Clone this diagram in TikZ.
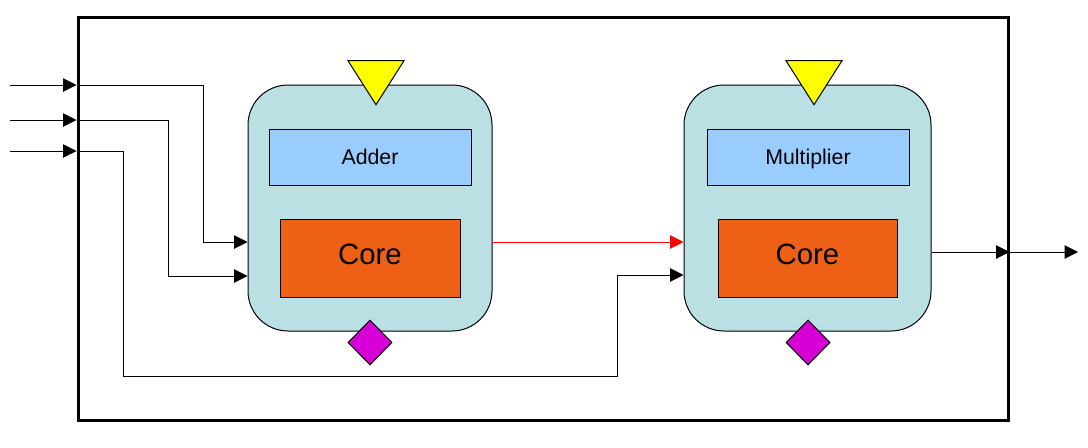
\documentclass[tikz,border=0pt]{standalone}
\usepackage{fontspec}
\setmainfont{Liberation Sans}
\usepackage{xcolor}
\usetikzlibrary{positioning,shapes.geometric,arrows.meta}

\definecolor{unitfill}{RGB}{186,224,227}
\definecolor{namefill}{RGB}{153,204,255}
\definecolor{corefill}{RGB}{237,96,22}
\definecolor{clockfill}{RGB}{255,255,0}
\definecolor{resetfill}{RGB}{214,0,214}

\begin{document}
\begin{tikzpicture}[x=0.75pt,y=-0.75pt,line width=0.75pt,
    >={Triangle[length=10pt,width=10pt]},
    unit/.style={draw,fill=unitfill,rounded corners=30pt,minimum height=184.5pt,inner sep=0pt},
    namebox/.style={draw,fill=namefill,minimum width=151.5pt,minimum height=42pt,
        inner sep=0pt,text depth=0pt,font=\fontsize{16}{19}\selectfont},
    corebox/.style={draw,fill=corefill,minimum width=135pt,minimum height=58.5pt,
        inner sep=0pt,text depth=6pt,font=\fontsize{22}{26}\selectfont},
    clock/.style={draw,fill=clockfill,isosceles triangle,isosceles triangle stretches,
        shape border rotate=270,minimum width=42pt,minimum height=33pt,inner sep=0pt,anchor=apex},
    reset/.style={draw,fill=resetfill,diamond,minimum width=33pt,minimum height=33.75pt,inner sep=0pt}]
    \useasboundingbox (0,0) rectangle (1088,447);

    \node[draw,line width=2.25pt,minimum width=697.5pt,minimum height=302.25pt,inner sep=0pt]
        (frame) at (543,218.5) {};

    \node[unit,minimum width=183pt] (add) at (370,208) {};
    \node[unit,minimum width=185.25pt] (mul) at (807.5,208) {};

    \node[namebox] (addname) at (370,157) {Adder};
    \node[namebox] (mulname) at (808,157) {Multiplier};
    \node[corebox] (addcore) at (370,258) {Core};
    \node[corebox,minimum width=134.25pt] (mulcore) at (807.5,258) {Core};

    \node[clock] (addclk) at (376,106) {};
    \node[clock] (mulclk) at (814,106) {};
    \node[reset] (addrst) at (370,342.5) {};
    \node[reset] (mulrst) at (808,342.5) {};

    % inputs and outputs
    \coordinate (in1) at (10,85);
    \coordinate (in2) at (10,120);
    \coordinate (in3) at (10,151);
    \coordinate (addin1) at (add.west |- 0,242);
    \coordinate (addin2) at (add.west |- 0,276);
    \coordinate (mulin1) at (mul.west |- 0,242);
    \coordinate (mulin2) at (mul.west |- 0,275);
    \coordinate (mulout) at (mul.east |- 0,252);
    \coordinate (out) at (1078,252);

    \draw[->] (in1) -- (in1 -| frame.west);
    \draw[->] (in2) -- (in2 -| frame.west);
    \draw[->] (in3) -- (in3 -| frame.west);
    \draw[->] (in1 -| frame.west) -| (203,242) -- (addin1);
    \draw[->] (in2 -| frame.west) -| (168,276) -- (addin2);
    \draw[->] (in3 -| frame.west) -| (123,376) -| (617,275) -- (mulin2);
    \draw[->,red] (add.east |- mulin1) -- (mulin1);
    \draw[->] (mulout) -- (mulout -| frame.east);
    \draw[->] (mulout -| frame.east) -- (out);
\end{tikzpicture}
\end{document}
